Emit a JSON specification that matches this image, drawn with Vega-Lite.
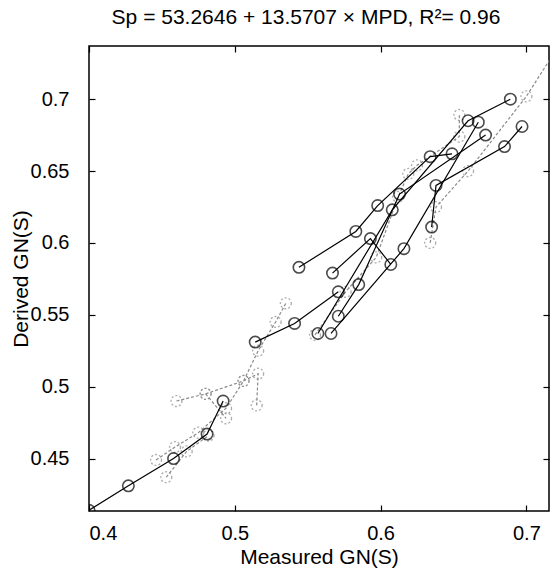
{
  "$schema": "https://vega.github.io/schema/vega-lite/v6.json",
  "width": 460,
  "height": 465,
  "autosize": {"type": "none"},
  "padding": {"left": 89, "top": 46, "right": 6, "bottom": 59},
  "background": "white",
  "config": {
    "font": "Liberation Sans",
    "view": {"stroke": "black", "strokeWidth": 1.5},
    "axis": {"grid": false, "domain": false, "tickColor": "black", "tickSize": -6, "tickWidth": 1.2, "labelColor": "black", "titleColor": "black", "labelFont": "Liberation Sans", "titleFont": "Liberation Sans", "labelFontSize": 20, "titleFontSize": 21, "titleFontWeight": "normal"}
  },
  "title": {"text": "Sp = 53.2646 + 13.5707 × MPD, R²=  0.96", "fontSize": 21, "fontWeight": "normal", "font": "Liberation Sans", "color": "black", "offset": 15, "dx": -13},
  "data": {"values": [
    {"g": "G1", "kind": "A", "o": 1, "x": 0.400, "y": 0.414},
    {"g": "G1", "kind": "A", "o": 2, "x": 0.427, "y": 0.431},
    {"g": "G1", "kind": "A", "o": 3, "x": 0.458, "y": 0.450},
    {"g": "G1", "kind": "A", "o": 4, "x": 0.481, "y": 0.467},
    {"g": "G1", "kind": "A", "o": 5, "x": 0.492, "y": 0.490},
    {"g": "G1b", "kind": "A", "o": 1, "x": 0.514, "y": 0.531},
    {"g": "G1b", "kind": "A", "o": 2, "x": 0.541, "y": 0.544},
    {"g": "G1b", "kind": "A", "o": 3, "x": 0.571, "y": 0.566},
    {"g": "G2", "kind": "A", "o": 1, "x": 0.544, "y": 0.583},
    {"g": "G2", "kind": "A", "o": 2, "x": 0.583, "y": 0.608},
    {"g": "G2", "kind": "A", "o": 3, "x": 0.598, "y": 0.626},
    {"g": "G2", "kind": "A", "o": 4, "x": 0.634, "y": 0.660},
    {"g": "G2", "kind": "A", "o": 5, "x": 0.649, "y": 0.662},
    {"g": "G3", "kind": "A", "o": 1, "x": 0.557, "y": 0.537},
    {"g": "G3", "kind": "A", "o": 2, "x": 0.608, "y": 0.623},
    {"g": "G3", "kind": "A", "o": 3, "x": 0.660, "y": 0.685},
    {"g": "G3", "kind": "A", "o": 4, "x": 0.689, "y": 0.700},
    {"g": "G4", "kind": "A", "o": 1, "x": 0.566, "y": 0.537},
    {"g": "G4", "kind": "A", "o": 2, "x": 0.616, "y": 0.596},
    {"g": "G4", "kind": "A", "o": 3, "x": 0.667, "y": 0.684},
    {"g": "G5", "kind": "A", "o": 1, "x": 0.571, "y": 0.549},
    {"g": "G5", "kind": "A", "o": 2, "x": 0.585, "y": 0.571},
    {"g": "G5", "kind": "A", "o": 3, "x": 0.613, "y": 0.634},
    {"g": "G5", "kind": "A", "o": 4, "x": 0.672, "y": 0.675},
    {"g": "G6", "kind": "A", "o": 1, "x": 0.635, "y": 0.611},
    {"g": "G6", "kind": "A", "o": 2, "x": 0.638, "y": 0.640},
    {"g": "G6", "kind": "A", "o": 3, "x": 0.685, "y": 0.667},
    {"g": "G6", "kind": "A", "o": 4, "x": 0.697, "y": 0.681},
    {"g": "G7", "kind": "A", "o": 1, "x": 0.567, "y": 0.579},
    {"g": "G7", "kind": "A", "o": 2, "x": 0.593, "y": 0.603},
    {"g": "G7", "kind": "A", "o": 3, "x": 0.607, "y": 0.585},
    {"g": "H1", "kind": "B", "o": 1, "x": 0.446, "y": 0.449},
    {"g": "H1", "kind": "B", "o": 2, "x": 0.459, "y": 0.458},
    {"g": "H1", "kind": "B", "o": 3, "x": 0.475, "y": 0.468},
    {"g": "H1", "kind": "B", "o": 4, "x": 0.494, "y": 0.485},
    {"g": "H1", "kind": "B", "o": 5, "x": 0.506, "y": 0.504},
    {"g": "H1", "kind": "B", "o": 6, "x": 0.516, "y": 0.525},
    {"g": "H1", "kind": "B", "o": 7, "x": 0.528, "y": 0.545},
    {"g": "H1", "kind": "B", "o": 8, "x": 0.535, "y": 0.558},
    {"g": "H2", "kind": "B", "o": 1, "x": 0.460, "y": 0.490},
    {"g": "H2", "kind": "B", "o": 2, "x": 0.480, "y": 0.495},
    {"g": "H2", "kind": "B", "o": 3, "x": 0.494, "y": 0.478},
    {"g": "H3", "kind": "B", "o": 1, "x": 0.453, "y": 0.437},
    {"g": "H3", "kind": "B", "o": 2, "x": 0.467, "y": 0.455},
    {"g": "H3", "kind": "B", "o": 3, "x": 0.482, "y": 0.466},
    {"g": "H4", "kind": "B", "o": 1, "x": 0.480, "y": 0.495},
    {"g": "H4", "kind": "B", "o": 2, "x": 0.506, "y": 0.504},
    {"g": "H4", "kind": "B", "o": 3, "x": 0.516, "y": 0.509},
    {"g": "H4", "kind": "B", "o": 4, "x": 0.515, "y": 0.487},
    {"g": "H5", "kind": "B", "o": 1, "x": 0.555, "y": 0.536},
    {"g": "H5", "kind": "B", "o": 2, "x": 0.576, "y": 0.566},
    {"g": "H5", "kind": "B", "o": 3, "x": 0.597, "y": 0.590},
    {"g": "H5", "kind": "B", "o": 4, "x": 0.612, "y": 0.632},
    {"g": "H5", "kind": "B", "o": 5, "x": 0.619, "y": 0.648},
    {"g": "H5", "kind": "B", "o": 6, "x": 0.625, "y": 0.654},
    {"g": "H5", "kind": "B", "o": 7, "x": 0.654, "y": 0.674},
    {"g": "H5", "kind": "B", "o": 8, "x": 0.654, "y": 0.689},
    {"g": "H6", "kind": "B", "o": 1, "x": 0.634, "y": 0.600},
    {"g": "H6", "kind": "B", "o": 2, "x": 0.638, "y": 0.625},
    {"g": "H6", "kind": "B", "o": 3, "x": 0.660, "y": 0.650},
    {"g": "H6", "kind": "B", "o": 4, "x": 0.700, "y": 0.702},
    {"g": "H6", "kind": "B", "o": 5, "x": 0.722, "y": 0.737}
  ]},
  "layer": [
    {
      "encoding": {
        "x": {"field": "x", "type": "quantitative", "scale": {"domain": [0.4, 0.7155], "nice": false, "zero": false},
              "axis": {"orient": "bottom", "title": "Measured GN(S)", "values": [0.4, 0.5, 0.6, 0.7], "format": "~f", "labelPadding": 18, "titlePadding": 3}},
        "y": {"field": "y", "type": "quantitative", "scale": {"domain": [0.4135, 0.737], "nice": false, "zero": false},
              "axis": {"orient": "left", "title": "Derived GN(S)", "values": [0.45, 0.5, 0.55, 0.6, 0.65, 0.7], "format": "~f", "labelPadding": 26, "titlePadding": -1}}
      },
      "layer": [
        {
          "transform": [{"filter": "datum.kind === 'B'"}],
          "mark": {"type": "line", "color": "#8a8a8a", "strokeWidth": 1.2, "strokeDash": [3, 2], "clip": true},
          "encoding": {"detail": {"field": "g"}, "order": {"field": "o"}}
        },
        {
          "transform": [{"filter": "datum.kind === 'B' && datum.x < 0.71"}],
          "mark": {"type": "point", "shape": "circle", "filled": false, "size": 120, "color": "#8a8a8a", "strokeWidth": 1.3, "strokeDash": [2, 2], "clip": true}
        },
        {
          "transform": [{"filter": "datum.kind === 'A'"}],
          "mark": {"type": "line", "color": "black", "strokeWidth": 1.2, "clip": true},
          "encoding": {"detail": {"field": "g"}, "order": {"field": "o"}}
        },
        {
          "transform": [{"filter": "datum.kind === 'A'"}],
          "mark": {"type": "point", "shape": "circle", "filled": false, "size": 130, "color": "black", "strokeWidth": 1.6, "clip": true}
        }
      ]
    },
    {
      "mark": {"type": "point", "opacity": 0},
      "encoding": {
        "x": {"field": "x", "type": "quantitative", "axis": {"orient": "top", "labels": false, "title": null, "values": [0.4, 0.5, 0.6, 0.7]}},
        "y": {"field": "y", "type": "quantitative", "axis": {"orient": "right", "labels": false, "title": null, "values": [0.45, 0.5, 0.55, 0.6, 0.65, 0.7]}}
      }
    }
  ],
  "resolve": {"axis": {"x": "independent", "y": "independent"}}
}
